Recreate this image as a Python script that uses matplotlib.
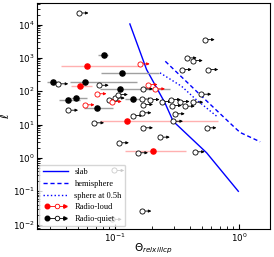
import numpy as np
import matplotlib
matplotlib.use('Agg')
import matplotlib.pyplot as plt
from matplotlib.lines import Line2D
from matplotlib.legend_handler import HandlerBase

# model curves (theta, ell)
slab_x = [0.132, 0.180, 0.253, 0.295, 0.549, 0.99]
slab_y = [10400, 447, 45, 12.6, 1.43, 0.10]
hemi_x = [0.255, 0.484, 0.906, 1.024, 1.485]
hemi_y = [791, 80, 8.8, 5.8, 3.05]
sph_x = [0.231, 0.345, 0.442, 0.661]
sph_y = [356, 141, 60.5, 17.9]

# radio-quiet lower limits
rq_lim_x = [0.051, 0.035, 0.0743, 0.0895, 0.100, 0.106, 0.042, 0.0681, 0.1405, 0.169,
            0.165, 0.169, 0.164, 0.191, 0.239, 0.283, 0.288, 0.334, 0.367, 0.430,
            0.499, 0.305, 0.295, 0.169, 0.549, 0.231, 0.108, 0.154, 0.442, 0.099,
            0.164, 0.0946, 0.532, 0.381, 0.426, 0.347, 0.568]
rq_lim_y = [22200, 167, 151, 56.4, 62.5, 79.6, 27.0, 11.3, 18.7, 118,
            58.4, 40, 22.6, 56.4, 49.2, 56.4, 37.3, 49.2, 35.6, 46.9,
            81.3, 21.1, 12.6, 8.02, 8.02, 4.2, 2.85, 1.43, 1.53, 0.42,
            0.0255, 0.0144, 3530, 1000, 830, 447, 447]

# radio-loud lower limits
rl_lim_x = [0.159, 0.0712, 0.057, 0.0946, 0.1836, 0.211]
rl_lim_y = [661, 84.2, 39.2, 49.2, 159, 118]

# radio-quiet measured (value, low, high)
rq_x = [0.0811, 0.1146, 0.0315, 0.0573, 0.042, 0.0487, 0.0722, 0.1405, 0.11]
rq_lo = [0.0729, 0.0771, 0.0283, 0.0434, 0.0353, 0.0442, 0.0562, 0.120, 0.0757]
rq_hi = [0.0879, 0.225, 0.036, 0.150, 0.0522, 0.0594, 0.0963, 0.165, 0.278]
rq_y = [1197, 363, 191, 191, 53.8, 63.4, 31.8, 59.2, 118]

# radio-loud measured
rl_x = [0.0598, 0.0522, 0.124, 0.204]
rl_lo = [0.0367, 0.0442, 0.0757, 0.12]
rl_hi = [0.159, 0.0653, 0.677, 0.374]
rl_y = [561, 148, 12.6, 1.57]

ARROW = 1.2
MS = 3.7


class LimHandler(HandlerBase):
    def __init__(self, color):
        super().__init__()
        self.c = color

    def create_artists(self, legend, orig_handle, xdescent, ydescent,
                       width, height, fontsize, trans):
        y = height / 2 - ydescent
        x0 = -xdescent
        arts = []
        arts.append(Line2D([x0 + 0.15 * width, x0 + 0.9 * width], [y, y],
                           color=self.c, lw=0.6))
        arts.append(Line2D([x0 + 0.15 * width], [y], marker='o', ls='',
                           color=self.c, ms=3.3))
        arts.append(Line2D([x0 + 0.55 * width], [y], marker='o', ls='',
                           mfc='white', mec=self.c, mew=0.6, ms=3.3))
        arts.append(Line2D([x0 + 0.9 * width], [y], marker='>', ls='',
                           color=self.c, ms=2.5))
        for a in arts:
            a.set_transform(trans)
        return arts


fig = plt.figure(figsize=(2.74, 2.57), dpi=100)
ax = fig.add_axes([0.135, 0.109, 0.85, 0.879])
ax.set_xscale('log')
ax.set_yscale('log')

ax.plot(slab_x, slab_y, color='blue', lw=1.0, zorder=2)
ax.plot(hemi_x, hemi_y, color='blue', lw=1.0, ls='--', dashes=(3, 2), zorder=2)
ax.plot(sph_x, sph_y, color='blue', lw=1.0, ls=':', zorder=2)


def limits(xs, ys, c):
    for x, y in zip(xs, ys):
        ax.annotate('', xy=(x * ARROW, y), xytext=(x, y),
                    arrowprops=dict(arrowstyle='-|>', color=c, lw=0.6,
                                    mutation_scale=4, shrinkA=0, shrinkB=0),
                    zorder=3)
    ax.plot(xs, ys, ls='', marker='o', ms=MS, mfc='white', mec=c, mew=0.6, zorder=4)


def measured(xs, lo, hi, ys, c, ec):
    xs = np.array(xs)
    err = [xs - np.array(lo), np.array(hi) - xs]
    ax.errorbar(xs, ys, xerr=err, fmt='o', ms=MS, color=c, ecolor=ec,
                elinewidth=1.0, capsize=0, zorder=3)


measured(rq_x, rq_lo, rq_hi, rq_y, 'black', '#a0a0a0')
measured(rl_x, rl_lo, rl_hi, rl_y, 'red', '#ffb0b0')
limits(rq_lim_x, rq_lim_y, 'black')
limits(rl_lim_x, rl_lim_y, 'red')

ax.set_xlim(0.0235, 1.78)
ax.set_ylim(0.0074, 44000)
ax.tick_params(which='both', direction='in', labelsize=6.3, pad=2)
ax.tick_params(which='major', length=3.5)
ax.tick_params(which='minor', length=2)
ax.set_xlabel(r'$\Theta_{relxillcp}$', fontsize=7.5, labelpad=-2)
ax.set_ylabel(r'$\ell$', fontsize=8, labelpad=1)

h_slab = Line2D([], [], color='blue', lw=1.0)
h_hemi = Line2D([], [], color='blue', lw=1.0, ls='--', dashes=(3, 2))
h_sph = Line2D([], [], color='blue', lw=1.0, ls=':')
h_rl = Line2D([], [], color='red')
h_rq = Line2D([], [], color='black')
ax.legend([h_slab, h_hemi, h_sph, h_rl, h_rq],
          ['slab', 'hemisphere', 'sphere at 0.5h', 'Radio-loud', 'Radio-quiet'],
          handler_map={h_rl: LimHandler('red'), h_rq: LimHandler('black')},
          loc='lower left', prop={'family': 'Liberation Serif', 'size': 6},
          handlelength=3.0, handletextpad=0.8, labelspacing=0.45,
          borderaxespad=0.3, borderpad=0.4)

fig.savefig('out.png', dpi=100)
